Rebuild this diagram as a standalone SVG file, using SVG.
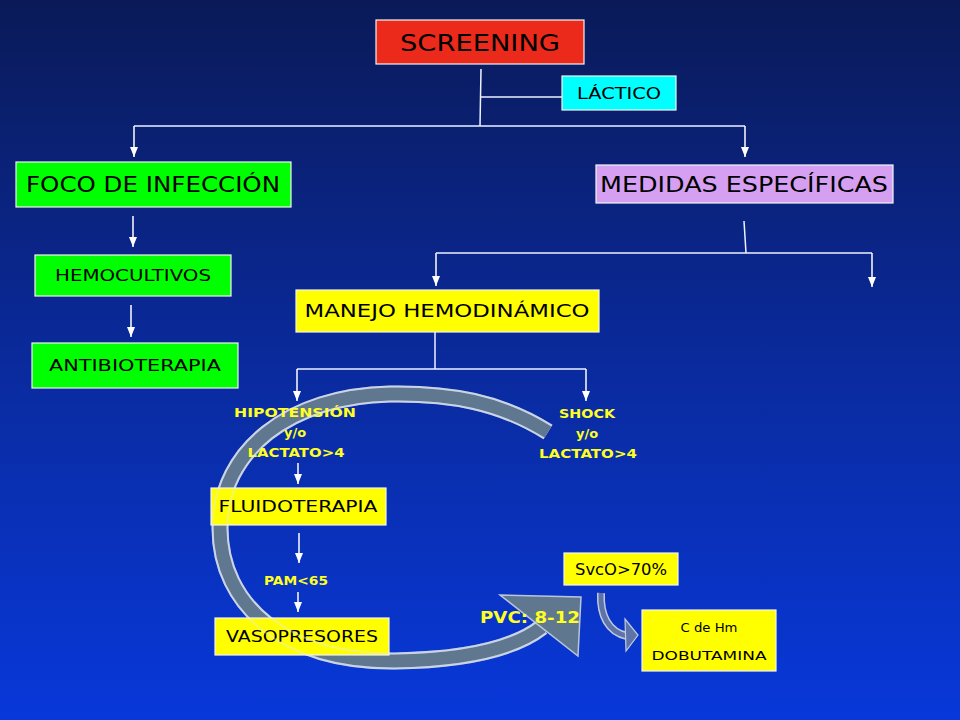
<svg xmlns="http://www.w3.org/2000/svg" width="960" height="720" viewBox="0 0 960 720">
<defs>
<linearGradient id="bg" x1="0" y1="0" x2="0" y2="1">
<stop offset="0" stop-color="#0a1a58"/>
<stop offset="0.5" stop-color="#0a2a9c"/>
<stop offset="1" stop-color="#0838da"/>
</linearGradient>
<marker id="ah" markerWidth="10" markerHeight="8" refX="10" refY="4" orient="auto" markerUnits="userSpaceOnUse">
<path d="M0,0 L10,4 L0,8 z" fill="#ffffff"/>
</marker>
<path id="band" d="M548,432 C500,402 450,393 390,394 C290,396 220,450 220,528 C220,605 285,662 395,661 C455,660 510,652 542,627"/>
<mask id="edge" maskUnits="userSpaceOnUse" x="0" y="0" width="960" height="720">
<use href="#band" fill="none" stroke="#fff" stroke-width="17"/>
<use href="#band" fill="none" stroke="#000" stroke-width="13"/>
</mask>
<style>
.ln{fill:none;stroke:#eef2ff;stroke-width:1.5}
.ar{fill:none;stroke:#ffffff;stroke-width:1.5;marker-end:url(#ah)}
.box{stroke:#f4f4f4;stroke-width:1.2}
.t{font-family:"DejaVu Sans","Liberation Sans",sans-serif;fill:#000;text-anchor:middle}
.y{font-family:"DejaVu Sans","Liberation Sans",sans-serif;fill:#ffff22;text-anchor:middle;font-weight:bold}
</style>
</defs>
<rect x="0" y="0" width="960" height="720" fill="url(#bg)"/>

<g id="cycle-arrow">
<use href="#band" fill="none" stroke="#b9c5da" stroke-width="17"/>
<use href="#band" fill="none" stroke="#5f7890" stroke-width="13"/>
<polygon points="500,595 581,597 578,656" fill="#5f7890" stroke="#b9c5da" stroke-width="1.5"/>
</g>

<g id="connectors">
<path class="ln" d="M481,69 L480,126"/>
<path class="ln" d="M480,97 L562,97"/>
<path class="ln" d="M134,126 L745,126"/>
<path class="ar" d="M134,126 L134,157"/>
<path class="ar" d="M745,126 L745,157"/>
<path class="ar" d="M133,216 L133,247"/>
<path class="ar" d="M131,305 L131,337"/>
<path class="ln" d="M744,221 L746,253"/>
<path class="ln" d="M436,253 L872,253"/>
<path class="ar" d="M436,253 L436,286"/>
<path class="ar" d="M872,253 L872,287"/>
<path class="ln" d="M435,332 L435,369"/>
<path class="ln" d="M297,369 L586,369"/>
<path class="ar" d="M297,369 L297,401"/>
<path class="ar" d="M586,369 L586,401"/>
<path class="ar" d="M298,463 L298,484"/>
<path class="ar" d="M299,533 L299,563"/>
<path class="ar" d="M298,592 L298,612"/>
</g>

<g id="small-arrow">
<path d="M601,593 C600,615 608,632 627,636" fill="none" stroke="#c0cbe0" stroke-width="8"/>
<path d="M601,593 C600,615 608,632 627,636" fill="none" stroke="#5e74a8" stroke-width="5"/>
<polygon points="625,619 638,635 626,651" fill="#5e74a8" stroke="#c0cbe0" stroke-width="1.2"/>
</g>

<g id="screening"><rect class="box" x="376" y="20" width="208" height="44" fill="#ec2a1c"/>
<text class="t" x="480" y="51" font-size="23" textLength="160" lengthAdjust="spacingAndGlyphs">SCREENING</text></g>

<g id="lactico"><rect class="box" x="562" y="76" width="114" height="34" fill="#00ffff"/>
<text class="t" x="619" y="99" font-size="15" textLength="84" lengthAdjust="spacingAndGlyphs">LÁCTICO</text></g>

<g id="foco"><rect class="box" x="16" y="162" width="275" height="45" fill="#00ff00"/>
<text class="t" x="153" y="192" font-size="22" textLength="254" lengthAdjust="spacingAndGlyphs">FOCO DE INFECCIÓN</text></g>

<g id="medidas"><rect class="box" x="596" y="165" width="297" height="38" fill="#d6a0f2"/>
<text class="t" x="744" y="192" font-size="22" textLength="288" lengthAdjust="spacingAndGlyphs">MEDIDAS ESPECÍFICAS</text></g>

<g id="hemocultivos"><rect class="box" x="35" y="255" width="196" height="41" fill="#00ff00"/>
<text class="t" x="133" y="281" font-size="15" textLength="156" lengthAdjust="spacingAndGlyphs">HEMOCULTIVOS</text></g>

<g id="antibioterapia"><rect class="box" x="32" y="343" width="206" height="45" fill="#00ff00"/>
<text class="t" x="135" y="371" font-size="15" textLength="172" lengthAdjust="spacingAndGlyphs">ANTIBIOTERAPIA</text></g>

<g id="manejo"><rect class="box" x="296" y="290" width="303" height="42" fill="#ffff00"/>
<text class="t" x="447" y="317" font-size="18" textLength="285" lengthAdjust="spacingAndGlyphs">MANEJO HEMODINÁMICO</text></g>

<g id="hipotension">
<text class="y" x="295" y="417" font-size="13" textLength="122" lengthAdjust="spacingAndGlyphs">HIPOTENSIÓN</text>
<text class="y" x="295" y="437" font-size="13">y/o</text>
<text class="y" x="296" y="457" font-size="13" textLength="97" lengthAdjust="spacingAndGlyphs">LACTATO&gt;4</text>
</g>

<g id="shock">
<text class="y" x="587" y="418" font-size="13" textLength="56" lengthAdjust="spacingAndGlyphs">SHOCK</text>
<text class="y" x="587" y="438" font-size="13">y/o</text>
<text class="y" x="588" y="458" font-size="13" textLength="98" lengthAdjust="spacingAndGlyphs">LACTATO&gt;4</text>
</g>

<g id="fluidoterapia"><rect class="box" x="211" y="488" width="175" height="37" fill="#ffff00"/>
<text class="t" x="298" y="512" font-size="15" textLength="159" lengthAdjust="spacingAndGlyphs">FLUIDOTERAPIA</text></g>

<g id="pam"><text class="y" x="296" y="585" font-size="13" textLength="64" lengthAdjust="spacingAndGlyphs">PAM&lt;65</text></g>

<g id="vasopresores"><rect class="box" x="215" y="618" width="174" height="37" fill="#ffff00"/>
<text class="t" x="302" y="642" font-size="15" textLength="152" lengthAdjust="spacingAndGlyphs">VASOPRESORES</text></g>

<g id="svco"><rect class="box" x="564" y="553" width="114" height="32" fill="#ffff00"/>
<text class="t" x="621" y="575" font-size="15" textLength="92" lengthAdjust="spacingAndGlyphs">SvcO&gt;70%</text></g>

<g id="dobutamina"><rect class="box" x="642" y="610" width="134" height="61" fill="#ffff00"/>
<text class="t" x="709" y="632" font-size="13" textLength="57" lengthAdjust="spacingAndGlyphs">C de Hm</text>
<text class="t" x="709" y="660" font-size="12.5" textLength="115" lengthAdjust="spacingAndGlyphs">DOBUTAMINA</text></g>

<g id="pvc"><text class="y" x="530" y="623" font-size="16" textLength="100" lengthAdjust="spacingAndGlyphs">PVC: 8-12</text></g>

<g id="band-edge-overlay" opacity="0.4">
<rect x="0" y="0" width="960" height="720" fill="#e4ebf7" mask="url(#edge)"/>
</g>
</svg>
